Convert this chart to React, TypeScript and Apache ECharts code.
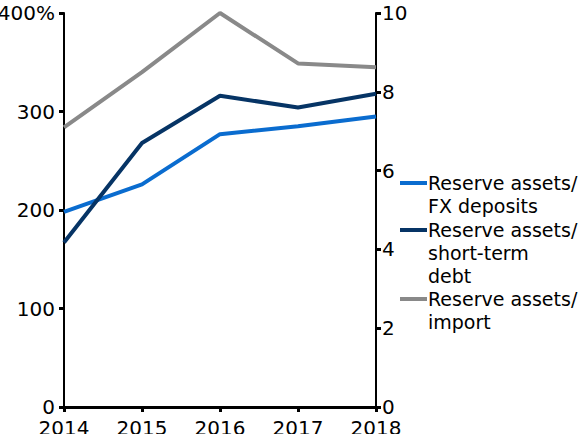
import React, { useEffect, useRef } from "react";
import * as echarts from "echarts";

const years = ["2014", "2015", "2016", "2017", "2018"];
const fxDeposits = [198, 226, 277, 285, 295];
const shortTermDebt = [167, 268, 316, 304, 318];
const importMonths = [7.1, 8.5, 10.0, 8.72, 8.62];
const seriesNames = ["Reserve assets/\nFX deposits", "Reserve assets/\nshort-term\ndebt", "Reserve assets/\nimport"];
const colors = ["#0a6ccf", "#063465", "#898989"];

const FONT = "DejaVu Sans";

export default function App() {
  const ref = useRef<HTMLDivElement>(null);
  useEffect(() => {
    if (!ref.current) return;
    const chart = echarts.init(ref.current, null, { renderer: "svg" });
    const axisLabel = { color: "#000", fontFamily: FONT, fontSize: 20 };
    const legendTops = [184, 231, 300];
    const graphics: any[] = [];
    seriesNames.forEach((n, i) => {
      graphics.push({
        type: "line",
        shape: { x1: 400, y1: legendTops[i] - 1, x2: 427, y2: legendTops[i] - 1 },
        style: { stroke: colors[i], lineWidth: 4 },
      });
      graphics.push({
        type: "text",
        x: 428,
        y: legendTops[i] - 13,
        style: {
          text: n,
          fontFamily: FONT,
          fontSize: 19,
          lineHeight: 23,
          fill: "#000",
          textVerticalAlign: "top",
        },
      });
    });
    chart.setOption({
      animation: false,
      grid: { left: 64, right: 206, top: 13, bottom: 27, containLabel: false, outerBoundsMode: "none" },
      xAxis: {
        type: "category",
        data: years,
        boundaryGap: false,
        axisLine: { lineStyle: { color: "#000", width: 3 } },
        axisTick: { alignWithLabel: true, length: 5, lineStyle: { color: "#000", width: 3 } },
        axisLabel: { ...axisLabel, margin: 11 },
      },
      yAxis: [
        {
          type: "value",
          min: 0,
          max: 400,
          interval: 100,
          position: "left",
          splitLine: { show: false },
          axisLine: { show: true, lineStyle: { color: "#000", width: 2 } },
          axisTick: { show: true, length: 5, lineStyle: { color: "#000", width: 3 } },
          axisLabel: {
            ...axisLabel,
            margin: 9,
            formatter: (v: number) => (v === 400 ? "400%" : String(v)),
          },
        },
        {
          type: "value",
          min: 0,
          max: 10,
          interval: 2,
          position: "right",
          splitLine: { show: false },
          axisLine: { show: true, lineStyle: { color: "#000", width: 2 } },
          axisTick: { show: true, length: 5, lineStyle: { color: "#000", width: 3 } },
          axisLabel: { ...axisLabel, margin: 6 },
        },
      ],
      series: [
        {
          name: seriesNames[0],
          type: "line",
          data: fxDeposits,
          yAxisIndex: 0,
          symbol: "none",
          lineStyle: { color: colors[0], width: 4 },
          itemStyle: { color: colors[0] },
        },
        {
          name: seriesNames[1],
          type: "line",
          data: shortTermDebt,
          yAxisIndex: 0,
          symbol: "none",
          lineStyle: { color: colors[1], width: 4 },
          itemStyle: { color: colors[1] },
        },
        {
          name: seriesNames[2],
          type: "line",
          data: importMonths,
          yAxisIndex: 1,
          symbol: "none",
          lineStyle: { color: colors[2], width: 4 },
          itemStyle: { color: colors[2] },
        },
      ],
      graphic: graphics,
    });
    return () => chart.dispose();
  }, []);
  return <div ref={ref} style={{ width: 582, height: 434, position: "absolute", left: 0, top: 0 }} />;
}
